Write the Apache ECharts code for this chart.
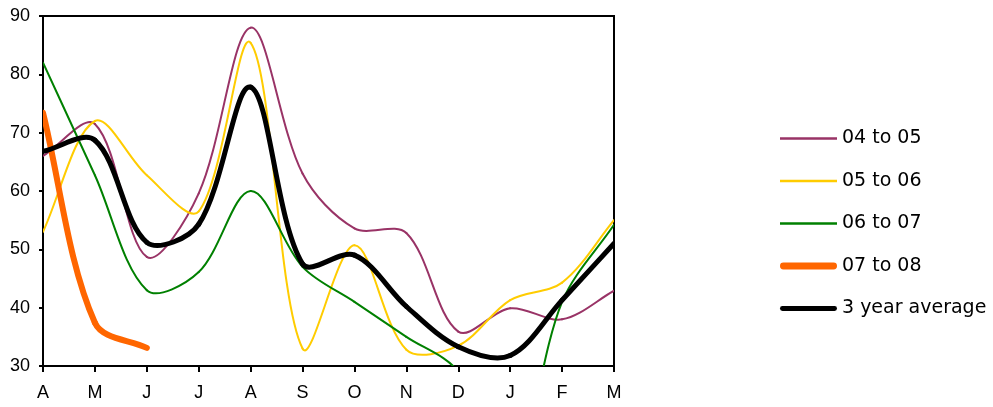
<!DOCTYPE html>
<html>
<head>
<meta charset="utf-8">
<script src="https://cdn.jsdelivr.net/npm/echarts@6/dist/echarts.min.js"></script>
<style>
  html, body { margin: 0; padding: 0; background: #fff; }
  #chart { width: 993px; height: 407px; }
</style>
</head>
<body>
<div id="chart"></div>
<script>
const months = ['A', 'M', 'J', 'J', 'A', 'S', 'O', 'N', 'D', 'J', 'F', 'M']

const y0405 = [66, 71.5, 48.7, 59.6, 88, 63, 53.6, 52.8, 35.9, 39.9, 38, 42.9]
const y0506 = [53, 72, 62.7, 56.5, 85.4, 33, 50.7, 32.8, 33.5, 41.3, 44.3, 55]
const y0607 = [82, 62.7, 43, 46.1, 60, 47, 41, 35, 29, 11, 41, 54.2]
const y0708 = [73.4, 37.4, 33.1]
const avg3 = [66.8, 68.7, 51.2, 54.3, 77.8, 47.5, 49, 40.2, 33.3, 31.8, 41.3, 51]

const seriesDefs = [
  { name: '04 to 05', data: y0405, color: '#993366', width: 2 },
  { name: '05 to 06', data: y0506, color: '#FFCC00', width: 2 },
  { name: '06 to 07', data: y0607, color: '#008000', width: 2 },
  { name: '07 to 08', data: y0708, color: '#FF6600', width: 6 },
  { name: '3 year average', data: avg3, color: '#000000', width: 5 },
]

// smoothed segment from point i to i+1, tangents weighted by segment length
function makeRenderer(def) {
  const vals = def.data
  const n = vals.length
  return function (params, api) {
    const i = params.dataIndex
    if (i >= n - 1) return null
    const pt = (k) => {
      const kk = Math.max(0, Math.min(n - 1, k))
      return api.coord([kk, vals[kk]])
    }
    const dist = (a, b) => Math.hypot(a[0] - b[0], a[1] - b[1])
    const p0 = pt(i - 1), p1 = pt(i), p2 = pt(i + 1), p3 = pt(i + 2)
    const d01 = dist(p0, p1), d12 = dist(p1, p2), d23 = dist(p2, p3)
    const r1 = d12 / (d01 + d12) / 3
    const r2 = d12 / (d12 + d23) / 3
    const cs = params.coordSys
    return {
      type: 'bezierCurve',
      shape: {
        x1: p1[0], y1: p1[1],
        cpx1: p1[0] + (p2[0] - p0[0]) * r1,
        cpy1: p1[1] + (p2[1] - p0[1]) * r1,
        cpx2: p2[0] - (p3[0] - p1[0]) * r2,
        cpy2: p2[1] - (p3[1] - p1[1]) * r2,
        x2: p2[0], y2: p2[1],
      },
      style: { stroke: def.color, lineWidth: def.width, fill: null, lineCap: 'round' },
      clipPath: { type: 'rect', shape: { x: cs.x, y: cs.y, width: cs.width, height: cs.height } },
    }
  }
}

const legendIcons = {
  '04 to 05': 'path://M0,0L57,0L57,2.5L0,2.5Z',
  '05 to 06': 'path://M0,0L57,0L57,2.5L0,2.5Z',
  '06 to 07': 'path://M0,0L57,0L57,2.5L0,2.5Z',
  '07 to 08': 'path://M3,0L54,0A3,3 0 0 1 54,7L3,7A3,3 0 0 1 3,0Z',
  '3 year average': 'path://M2,0L55,0A2,2 0 0 1 55,5L2,5A2,2 0 0 1 2,0Z',
}

const chart = echarts.init(document.getElementById('chart'))
chart.setOption({
  backgroundColor: '#fff',
  animation: false,
  grid: {
    left: 43, top: 16, right: 379, bottom: 41,
    show: true, borderColor: '#000', borderWidth: 2,
  },
  legend: {
    orient: 'vertical',
    left: 775,
    top: 124,
    itemWidth: 57,
    itemHeight: 14,
    itemGap: 23.5,
    textStyle: { fontFamily: '"Comic Sans MS", "DejaVu Sans", sans-serif', fontSize: 19, lineHeight: 19, color: '#000' },
    data: seriesDefs.map((s) => ({ name: s.name, icon: legendIcons[s.name] })),
  },
  xAxis: {
    type: 'category',
    boundaryGap: false,
    data: months,
    axisLine: { lineStyle: { color: '#000', width: 2 } },
    axisTick: { length: 6, lineStyle: { color: '#000', width: 2 }, interval: 0 },
    axisLabel: { color: '#000', fontFamily: 'Liberation Sans, Arial, sans-serif', fontSize: 18, margin: 18, interval: 0 },
    splitLine: { show: false },
  },
  yAxis: {
    type: 'value',
    min: 30,
    max: 90,
    interval: 10,
    axisLine: { show: true, lineStyle: { color: '#000', width: 2 } },
    axisTick: { show: true, length: 4, lineStyle: { color: '#000', width: 2 } },
    axisLabel: { color: '#000', fontFamily: 'Liberation Sans, Arial, sans-serif', fontSize: 18, margin: 13 },
    splitLine: { show: false },
  },
  series: seriesDefs.map((s) => ({
    name: s.name,
    type: 'custom',
    data: s.data.map((v, i) => [i, v]),
    encode: { x: 0, y: 1 },
    itemStyle: { color: s.color },
    renderItem: makeRenderer(s),
  })),
})
</script>
</body>
</html>
